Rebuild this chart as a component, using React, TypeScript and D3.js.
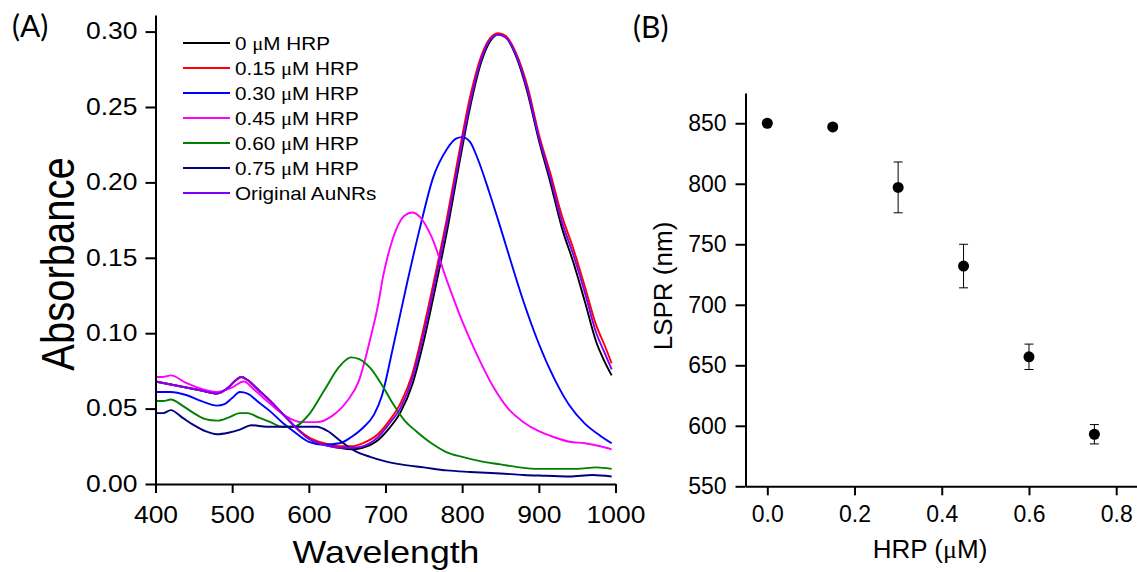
import React, { useEffect, useRef } from 'react';
import * as d3 from 'd3';

// spectra: [wavelength nm, absorbance]
const hrp0 = [[400, 0.068], [420, 0.066], [440, 0.064], [460, 0.062], [480, 0.060], [495, 0.064], [505, 0.069], [512, 0.071], [520, 0.069], [535, 0.062], [550, 0.055], [565, 0.047], [580, 0.039], [600, 0.030], [620, 0.026], [640, 0.024], [655, 0.023], [670, 0.024], [690, 0.029], [705, 0.037], [720, 0.048], [735, 0.066], [750, 0.095], [765, 0.130], [780, 0.167], [795, 0.209], [810, 0.249], [825, 0.280], [837, 0.294], [847, 0.298], [857, 0.296], [870, 0.284], [885, 0.260], [900, 0.228], [915, 0.200], [930, 0.170], [945, 0.147], [960, 0.121], [975, 0.094], [985, 0.082], [995, 0.072]];
const hrp015 = [[400, 0.068], [420, 0.066], [440, 0.064], [460, 0.062], [480, 0.060], [495, 0.064], [505, 0.069], [512, 0.071], [520, 0.069], [535, 0.062], [550, 0.055], [565, 0.047], [580, 0.039], [600, 0.031], [620, 0.027], [640, 0.025], [655, 0.025], [670, 0.027], [690, 0.033], [705, 0.042], [720, 0.054], [735, 0.073], [750, 0.104], [765, 0.139], [780, 0.176], [795, 0.217], [810, 0.256], [825, 0.284], [837, 0.296], [847, 0.299], [857, 0.297], [870, 0.286], [885, 0.264], [900, 0.232], [915, 0.206], [930, 0.178], [945, 0.156], [960, 0.131], [975, 0.105], [985, 0.093], [995, 0.080]];
const hrp030 = [[400, 0.061], [420, 0.061], [440, 0.059], [460, 0.055], [480, 0.052], [490, 0.053], [500, 0.057], [510, 0.061], [520, 0.060], [535, 0.054], [550, 0.048], [565, 0.041], [580, 0.035], [600, 0.028], [620, 0.026], [640, 0.027], [655, 0.031], [670, 0.037], [685, 0.046], [695, 0.058], [710, 0.091], [728, 0.133], [745, 0.170], [762, 0.203], [780, 0.222], [792, 0.229], [800, 0.230], [810, 0.227], [820, 0.216], [835, 0.194], [850, 0.170], [865, 0.145], [880, 0.121], [900, 0.093], [920, 0.070], [940, 0.052], [960, 0.040], [980, 0.032], [995, 0.027]];
const hrp045 = [[400, 0.071], [410, 0.071], [420, 0.072], [440, 0.067], [460, 0.063], [480, 0.061], [500, 0.064], [515, 0.068], [530, 0.062], [550, 0.053], [570, 0.045], [590, 0.041], [610, 0.041], [630, 0.045], [650, 0.055], [665, 0.068], [680, 0.096], [690, 0.118], [697, 0.138], [705, 0.155], [715, 0.170], [725, 0.178], [735, 0.180], [745, 0.177], [760, 0.164], [780, 0.135], [800, 0.108], [820, 0.085], [840, 0.065], [860, 0.050], [880, 0.041], [900, 0.035], [920, 0.031], [940, 0.028], [960, 0.027], [980, 0.025], [995, 0.023]];
const hrp060 = [[400, 0.055], [410, 0.055], [420, 0.056], [435, 0.052], [450, 0.047], [465, 0.043], [480, 0.042], [495, 0.044], [510, 0.047], [520, 0.047], [535, 0.044], [550, 0.041], [565, 0.038], [580, 0.038], [600, 0.046], [620, 0.062], [640, 0.078], [655, 0.084], [665, 0.083], [680, 0.077], [695, 0.066], [710, 0.053], [725, 0.042], [740, 0.035], [760, 0.027], [780, 0.021], [800, 0.018], [825, 0.015], [850, 0.013], [875, 0.011], [900, 0.010], [925, 0.010], [950, 0.010], [975, 0.011], [995, 0.010]];
const hrp075 = [[400, 0.047], [410, 0.047], [420, 0.049], [435, 0.044], [450, 0.039], [465, 0.035], [480, 0.033], [495, 0.034], [510, 0.036], [525, 0.039], [545, 0.038], [570, 0.038], [590, 0.038], [610, 0.038], [625, 0.035], [640, 0.029], [660, 0.022], [680, 0.018], [700, 0.015], [720, 0.013], [750, 0.011], [780, 0.009], [810, 0.008], [850, 0.007], [880, 0.006], [910, 0.0055], [940, 0.005], [970, 0.006], [995, 0.005]];
const original = [[400, 0.068], [420, 0.066], [440, 0.064], [460, 0.062], [480, 0.060], [495, 0.064], [505, 0.069], [512, 0.071], [520, 0.069], [535, 0.062], [550, 0.055], [565, 0.047], [580, 0.039], [600, 0.030], [620, 0.026], [640, 0.024], [655, 0.024], [670, 0.025], [690, 0.031], [705, 0.040], [720, 0.051], [735, 0.070], [750, 0.100], [765, 0.135], [780, 0.172], [795, 0.213], [810, 0.252], [825, 0.282], [837, 0.295], [847, 0.298], [857, 0.296], [870, 0.285], [885, 0.262], [900, 0.230], [915, 0.203], [930, 0.174], [945, 0.152], [960, 0.127], [975, 0.100], [985, 0.088], [995, 0.076]];

const legendLabels = ['0 ', '0.15 ', '0.30 ', '0.45 ', '0.60 ', '0.75 ', 'Original AuNRs'];
const seriesColors = ['#000000', '#ff0000', '#0000ff', '#ff00ff', '#008000', '#000080', '#8000ff'];
const spectra = [hrp0, hrp015, hrp030, hrp045, hrp060, hrp075, original];

// panel B
const hrpConc = [0, 0.15, 0.3, 0.45, 0.6, 0.75];
const lsprNm = [850, 847, 797, 732, 657, 593];
const lsprErr = [2, 2, 21, 18, 10.5, 8];

const absTicks = [0, 0.05, 0.1, 0.15, 0.2, 0.25, 0.3];
const wlTicks = [400, 500, 600, 700, 800, 900, 1000];
const lsprTicks = [550, 600, 650, 700, 750, 800, 850];
const concTicks = [0, 0.2, 0.4, 0.6, 0.8];

const W = 1137;
const H = 572;
const FONT = '"Liberation Sans", Arial, sans-serif';
const STRETCH = 1.15; // panel A text is wider in the picture

export default function App() {
  const ref = useRef(null);

  useEffect(() => {
    const svg = d3.select(ref.current);
    svg.selectAll('*').remove();

    // ---------- panel A ----------
    const xA = d3.scaleLinear().domain([400, 1000]).range([155.5, 615.5]);
    const yA = d3.scaleLinear().domain([0, 0.311]).range([484, 15]);

    const gA = svg.append('g');

    const line = d3.line()
      .x((d) => xA(d[0]))
      .y((d) => yA(d[1]))
      .curve(d3.curveMonotoneX);

    spectra.forEach((s, i) => {
      gA.append('path')
        .attr('d', line(s))
        .attr('fill', 'none')
        .attr('stroke', seriesColors[i])
        .attr('stroke-width', 1.9);
    });

    const axA = gA.append('g')
      .attr('transform', `translate(0,${yA(0)})`)
      .call(d3.axisBottom(xA).tickValues(wlTicks).tickFormat(d3.format('d')).tickSize(9).tickSizeOuter(0).tickPadding(14));
    axA.selectAll('text')
      .attr('transform', `scale(${STRETCH},1)`);

    const ayA = gA.append('g')
      .attr('transform', `translate(${xA(400)},0)`)
      .call(d3.axisLeft(yA).tickValues(absTicks).tickFormat(d3.format('.2f')).tickSize(10).tickSizeOuter(0));
    ayA.selectAll('text')
      .attr('x', 0)
      .attr('transform', `translate(-18,0) scale(${STRETCH},1)`);

    [axA, ayA].forEach((a) => {
      a.select('.domain').attr('stroke-width', 2);
      a.selectAll('.tick line').attr('stroke-width', 2);
      a.selectAll('text').style('font-family', FONT).style('font-size', '23px').attr('fill', '#000');
    });

    gA.append('text')
      .attr('transform', `translate(386,563) scale(${STRETCH},1)`)
      .attr('text-anchor', 'middle')
      .style('font-family', FONT)
      .style('font-size', '31px')
      .text('Wavelength');

    gA.append('text')
      .attr('transform', `translate(74,264) scale(${STRETCH},1) rotate(-90)`)
      .attr('text-anchor', 'middle')
      .style('font-family', FONT)
      .style('font-size', '40px')
      .text('Absorbance');

    // legend
    legendLabels.forEach((lab, i) => {
      const y = 43 + i * 25;
      gA.append('line')
        .attr('x1', 183).attr('x2', 230)
        .attr('y1', y).attr('y2', y)
        .attr('stroke', seriesColors[i])
        .attr('stroke-width', 2);
      const t = gA.append('text')
        .attr('transform', `translate(235,${y + 6.5}) scale(${STRETCH},1)`)
        .style('font-family', FONT)
        .style('font-size', '18px');
      if (i < 6) {
        t.append('tspan').text(lab);
        t.append('tspan').style('font-family', '"Liberation Serif", serif').text('\u03bc');
        t.append('tspan').text('M HRP');
      } else {
        t.text(lab);
      }
    });

    svg.append('text')
      .attr('x', 12).attr('y', 37)
      .style('font-family', 'Lato, "Open Sans", sans-serif')
      .style('font-size', '30px')
      .text('(A)');

    // ---------- panel B ----------
    const xB = d3.scaleLinear().domain([-0.05, 0.85]).range([745.5, 1138]);
    const yB = d3.scaleLinear().domain([550, 875]).range([486.3, 93]);
    const gB = svg.append('g');

    const axB = gB.append('g')
      .attr('transform', `translate(0,${yB(550)})`)
      .call(d3.axisBottom(xB).tickValues(concTicks).tickFormat(d3.format('.1f')).tickSize(9).tickSizeOuter(0).tickPadding(10));
    const ayB = gB.append('g')
      .attr('transform', `translate(${xB(-0.05)},0)`)
      .call(d3.axisLeft(yB).tickValues(lsprTicks).tickSize(10).tickSizeOuter(0).tickPadding(9));

    [axB, ayB].forEach((a) => {
      a.select('.domain').attr('stroke-width', 2);
      a.selectAll('.tick line').attr('stroke-width', 2);
      a.selectAll('text').style('font-family', FONT).style('font-size', '23px').attr('fill', '#000');
    });

    const pts = hrpConc.map((c, i) => ({ c, v: lsprNm[i], e: lsprErr[i] }));
    const eb = gB.selectAll('.eb').data(pts).enter().append('g');
    eb.append('line')
      .attr('x1', (d) => xB(d.c)).attr('x2', (d) => xB(d.c))
      .attr('y1', (d) => yB(d.v + d.e)).attr('y2', (d) => yB(d.v - d.e))
      .attr('stroke', '#000').attr('stroke-width', 1);
    [1, -1].forEach((sg) => {
      eb.append('line')
        .attr('x1', (d) => xB(d.c) - 4.5).attr('x2', (d) => xB(d.c) + 4.5)
        .attr('y1', (d) => yB(d.v + sg * d.e)).attr('y2', (d) => yB(d.v + sg * d.e))
        .attr('stroke', '#000').attr('stroke-width', 1);
    });
    eb.append('circle')
      .attr('cx', (d) => xB(d.c))
      .attr('cy', (d) => yB(d.v))
      .attr('r', 5.5)
      .attr('fill', '#000');

    const xl = gB.append('text')
      .attr('x', 930).attr('y', 558)
      .attr('text-anchor', 'middle')
      .style('font-family', FONT)
      .style('font-size', '26px');
    xl.append('tspan').text('HRP (');
    xl.append('tspan').style('font-family', '"Liberation Serif", serif').text('\u03bc');
    xl.append('tspan').text('M)');

    gB.append('text')
      .attr('transform', 'translate(672,286) rotate(-90)')
      .attr('text-anchor', 'middle')
      .style('font-family', FONT)
      .style('font-size', '26px')
      .text('LSPR (nm)');

    svg.append('text')
      .attr('x', 633).attr('y', 38)
      .style('font-family', 'Lato, "Open Sans", sans-serif')
      .style('font-size', '30px')
      .text('(B)');
  }, []);

  return (
    <svg
      ref={ref}
      width={W}
      height={H}
      style={{ position: 'absolute', left: 0, top: 0, background: '#fff' }}
    />
  );
}
